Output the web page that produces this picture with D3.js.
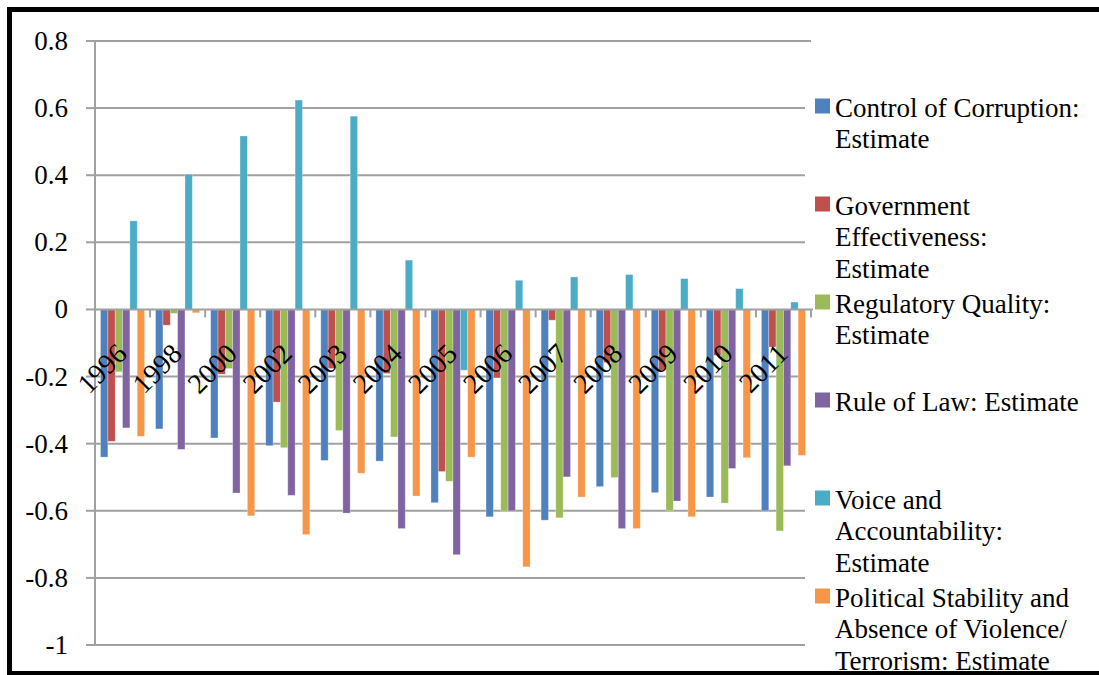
<!DOCTYPE html>
<html>
<head>
<meta charset="utf-8">
<script src="https://cdn.jsdelivr.net/npm/d3@7"></script>
<style>
  body { margin: 0; background: #fff; }
  svg { display: block; }
  text { font-family: "Liberation Serif", "Times New Roman", serif; fill: #000; }
</style>
</head>
<body>
<svg id="chart" width="1099" height="675"></svg>
<script>
// Governance indicator estimates by year
const years = ["1996", "1998", "2000", "2002", "2003", "2004", "2005", "2006", "2007", "2008", "2009", "2010", "2011"];

const controlOfCorruption    = [-0.440, -0.356, -0.383, -0.406, -0.450, -0.452, -0.576, -0.618, -0.628, -0.528, -0.546, -0.559, -0.600];
const governmentEffectiveness = [-0.393, -0.047, -0.193, -0.276, -0.176, -0.191, -0.483, -0.204, -0.032, -0.158, -0.181, -0.137, -0.112];
const regulatoryQuality      = [-0.186, -0.012, -0.176, -0.412, -0.361, -0.380, -0.512, -0.601, -0.621, -0.501, -0.600, -0.577, -0.660];
const ruleOfLaw              = [-0.353, -0.417, -0.547, -0.554, -0.607, -0.653, -0.731, -0.600, -0.499, -0.653, -0.571, -0.474, -0.466];
const voiceAccountability    = [0.264, 0.403, 0.517, 0.624, 0.576, 0.147, -0.181, 0.087, 0.097, 0.104, 0.092, 0.062, 0.022];
const politicalStability     = [-0.378, -0.010, -0.615, -0.671, -0.488, -0.556, -0.440, -0.767, -0.559, -0.653, -0.618, -0.442, -0.435];

const yTicks = [0.8, 0.6, 0.4, 0.2, 0, -0.2, -0.4, -0.6, -0.8, -1];
const yTickLabels = ["0.8", "0.6", "0.4", "0.2", "0", "-0.2", "-0.4", "-0.6", "-0.8", "-1"];

const seriesNames = [
  ["Control of Corruption:", "Estimate"],
  ["Government", "Effectiveness:", "Estimate"],
  ["Regulatory Quality:", "Estimate"],
  ["Rule of Law: Estimate"],
  ["Voice and", "Accountability:", "Estimate"],
  ["Political Stability and", "Absence of Violence/", "Terrorism: Estimate"]
];
const seriesValues = [controlOfCorruption, governmentEffectiveness, regulatoryQuality,
                      ruleOfLaw, voiceAccountability, politicalStability];
const seriesColors = ["#4F81BD", "#C0504D", "#9BBB59", "#8064A2", "#4BACC6", "#F79646"];

const svg = d3.select("#chart");
const gridColor = "#a0a0a0";

// Plot area
const plot = { left: 95, right: 811, top: 41, bottom: 645 };

const x = d3.scaleBand().domain(years).range([plot.left, plot.right]).paddingInner(0).paddingOuter(0);
const bw = x.bandwidth() / 7.5;            // six bars plus a 150% gap
const xs = d3.scaleBand().domain(d3.range(6)).range([0.75 * bw, 6.75 * bw]).padding(0);
const y = d3.scaleLinear().domain([-1, 0.8]).range([plot.bottom, plot.top]);

// Horizontal gridlines
svg.append("g").selectAll("line").data(yTicks.filter(t => t !== 0)).join("line")
  .attr("x1", plot.left).attr("x2", d => d === 0.8 ? plot.right : 805)
  .attr("y1", d => y(d)).attr("y2", d => y(d))
  .attr("stroke", gridColor).attr("stroke-width", 2);

// Y axis line and ticks
svg.append("line")
  .attr("x1", plot.left).attr("x2", plot.left)
  .attr("y1", y(0.8)).attr("y2", y(-1))
  .attr("stroke", gridColor).attr("stroke-width", 2);
svg.append("g").selectAll("line").data(yTicks).join("line")
  .attr("x1", plot.left - 9).attr("x2", plot.left)
  .attr("y1", d => y(d)).attr("y2", d => y(d))
  .attr("stroke", gridColor).attr("stroke-width", 2);

// Y labels
svg.append("g").selectAll("text").data(yTicks).join("text")
  .attr("x", 68).attr("y", d => y(d) + 9)
  .attr("text-anchor", "end")
  .style("font-size", "27px")
  .text((d, i) => yTickLabels[i]);

// X axis ticks between categories
const boundaries = d3.range(years.length + 1).map(i => plot.left + i * x.step());
svg.append("g").selectAll("line").data(boundaries.slice(1)).join("line")
  .attr("x1", d => d).attr("x2", d => d)
  .attr("y1", y(0)).attr("y2", y(0) + 8)
  .attr("stroke", gridColor).attr("stroke-width", 2);

// Bars
const bars = svg.append("g");
seriesValues.forEach((vals, s) => {
  bars.selectAll(null).data(vals).join("rect")
    .attr("x", (d, i) => x(years[i]) + xs(s))
    .attr("width", xs.bandwidth())
    .attr("y", d => y(Math.max(0, d)))
    .attr("height", d => Math.abs(y(d) - y(0)))
    .attr("fill", seriesColors[s])
    .attr("stroke", "#ffffff").attr("stroke-opacity", 0.35).attr("stroke-width", 0.8);
});

// X axis line
svg.append("line")
  .attr("x1", plot.left).attr("x2", plot.right + 2)
  .attr("y1", y(0)).attr("y2", y(0))
  .attr("stroke", gridColor).attr("stroke-width", 2);

// Category labels, rotated
svg.append("g").selectAll("text").data(years).join("text")
  .attr("transform", d => `translate(${x(d) + x.bandwidth() / 2 + 6},${y(0) + 46}) rotate(-45)`)
  .attr("text-anchor", "end")
  .style("font-size", "28px")
  .text(d => d);

// Outer frame
svg.append("rect")
  .attr("x", 9.5).attr("y", 9.5).attr("width", 1200).attr("height", 664)
  .attr("fill", "none").attr("stroke", "#000").attr("stroke-width", 5);

// Legend
const legend = svg.append("g");
const lineH = 31.5;
seriesNames.forEach((lines, i) => {
  const cy = 107.5 + i * 98;
  legend.append("rect")
    .attr("x", 815).attr("y", cy - 9).attr("width", 15).attr("height", 15)
    .attr("fill", seriesColors[i]);
  const t = legend.append("text").attr("x", 835).attr("y", cy + 9).style("font-size", "27px");
  lines.forEach((ln, j) => {
    t.append("tspan").attr("x", 835).attr("dy", j === 0 ? 0 : lineH).text(ln);
  });
});
</script>
</body>
</html>
